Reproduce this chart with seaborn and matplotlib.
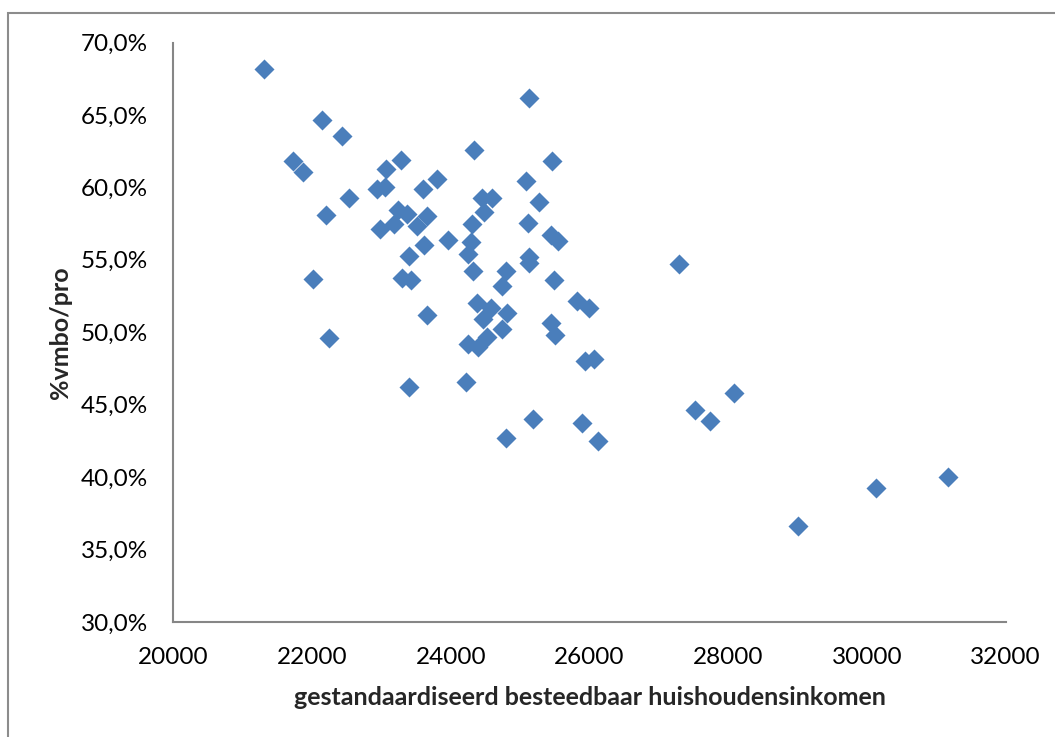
import numpy as np
import pandas as pd
import matplotlib
matplotlib.use("Agg")
import matplotlib.pyplot as plt
import matplotlib.patches as patches
from matplotlib.ticker import FuncFormatter, MultipleLocator
import seaborn as sns

# income (x) and share vmbo/pro (y)
income = [
    21312, 22148, 22436, 21721, 21865, 23278, 23071, 23801, 23595, 23045,
    22939, 22537, 22197, 23244, 23372, 23660, 23509, 23186, 22973, 23964,
    23610, 23401, 22010, 23301, 23427, 23657, 22249, 25132, 24335, 25459,
    25084, 24450, 24594, 24479, 25276, 24310, 25113, 25445, 25541, 24287,
    24253, 25123, 25128, 24325, 24801, 24743, 25492, 25815, 25993, 24382,
    24580, 24811, 24457, 24743, 25441, 25503, 24522, 24253, 24397, 25935,
    26069, 23398, 24215, 25181, 25887, 24796, 26122, 27290, 28079, 27521,
    27741, 29006, 30126, 31164,
]
vmbo_pro = [
    68.15, 64.62, 63.53, 61.83, 61.04, 61.87, 61.25, 60.58, 59.90, 60.06,
    59.86, 59.27, 58.12, 58.46, 58.16, 58.05, 57.35, 57.45, 57.15, 56.39,
    56.00, 55.24, 53.71, 53.78, 53.62, 51.22, 49.59, 66.18, 62.59, 61.85,
    60.44, 59.29, 59.25, 58.30, 58.99, 57.45, 57.54, 56.69, 56.29, 56.25,
    55.42, 55.19, 54.77, 54.20, 54.25, 53.16, 53.58, 52.14, 51.66, 52.01,
    51.65, 51.34, 50.90, 50.23, 50.66, 49.84, 49.68, 49.22, 48.96, 48.04,
    48.16, 46.20, 46.54, 44.01, 43.73, 42.70, 42.51, 54.68, 45.83, 44.63,
    43.85, 36.63, 39.26, 40.04,
]

x_label = "gestandaardiseerd besteedbaar huishoudensinkomen"
y_label = "%vmbo/pro"

df = pd.DataFrame({"inkomen": income, "pct": np.array(vmbo_pro) / 100})

sns.set_style("white")
plt.rcParams["font.family"] = ["Lato", "DejaVu Sans"]

fig = plt.figure(figsize=(10.55, 7.37), dpi=100)
ax = fig.add_axes([0.1643, 0.1560, 0.9533 - 0.1643, 0.9423 - 0.1560])

# outer chart border (Excel style), running off the right and bottom
fig.patches.append(patches.Rectangle((0.0079, -0.1), 1.2, 0.9828 + 0.1,
                                     transform=fig.transFigure, fill=False,
                                     edgecolor="#8c8c8c", linewidth=1.5))

sns.scatterplot(data=df, x="inkomen", y="pct", marker="D", s=104,
                color="#4a7ebb", edgecolor="#4a7ebb", linewidth=0, ax=ax,
                legend=False)

ax.set_xlim(20000, 32000)
ax.set_ylim(0.30, 0.70)
ax.xaxis.set_major_locator(MultipleLocator(2000))
ax.yaxis.set_major_locator(MultipleLocator(0.05))
ax.yaxis.set_major_formatter(FuncFormatter(lambda v, p: f"{v*100:.1f}%".replace(".", ",")))

for side in ["top", "right"]:
    ax.spines[side].set_visible(False)
for side in ["left", "bottom"]:
    ax.spines[side].set_color("#868686")
    ax.spines[side].set_linewidth(1.5)

ax.tick_params(axis="both", length=0, labelsize=17.5, colors="black")
ax.tick_params(axis="y", pad=18)
ax.tick_params(axis="x", pad=18)

ax.set_xlabel(x_label, fontsize=18, fontweight="bold")
ax.set_ylabel(y_label, fontsize=18, fontweight="bold")
ax.xaxis.label.set_va("center")
ax.yaxis.label.set_va("center")
ax.xaxis.set_label_coords(0.5, -0.131)
ax.yaxis.set_label_coords(-0.136, 0.5)

fig.savefig("out.png", dpi=100)
